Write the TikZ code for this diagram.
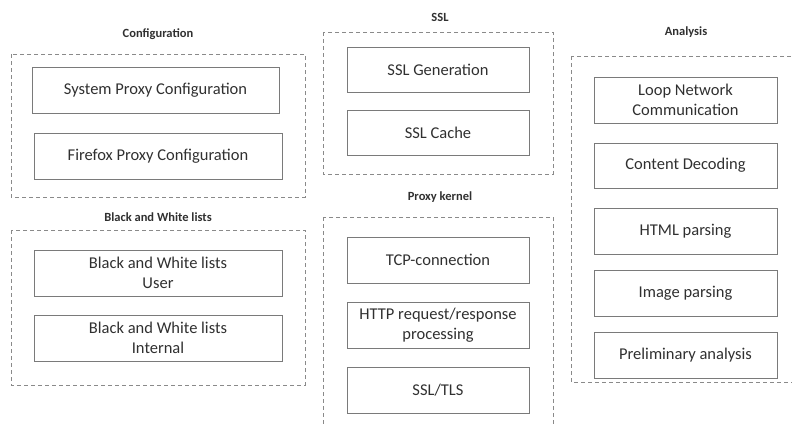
\documentclass[tikz,border=0pt]{standalone}
\usepackage{fontspec}
\setmainfont{Carlito}
\definecolor{boxline}{HTML}{7A7A7A}
\definecolor{dashline}{HTML}{8A8A8A}
\definecolor{txt}{HTML}{303030}
\begin{document}
\begin{tikzpicture}[x=1pt,y=-1pt,
  item/.style={draw=boxline, line width=0.9pt, rectangle, minimum width=#1, minimum height=46pt, align=center, font=\fontsize{16.5}{20}\selectfont, text=txt, inner sep=0pt},
  item/.default=183pt,
  grp/.style={draw=dashline, line width=0.8pt, dash pattern=on 4pt off 3pt},
  ttl/.style={font=\fontsize{12.5}{15}\selectfont\bfseries, text=txt, inner sep=0pt}]
\useasboundingbox (0,0) rectangle (792,423);
\clip (0,0) rectangle (792,423);
% group frames
\draw[grp] (11,54) rectangle (305,197);
\draw[grp] (11,230) rectangle (305,385);
\draw[grp] (323,32) rectangle (553,174);
\draw[grp] (323,217) rectangle (553,440);
\draw[grp] (571,56) rectangle (810,382);
% titles
\node[ttl] (tconf) at (158,34) {Configuration};
\node[ttl] (tbw) at (158,217) {Black and White lists};
\node[ttl] (tssl) at (440,17) {SSL};
\node[ttl] (tpk) at (440,197) {Proxy kernel};
\node[ttl] (tan) at (686,32) {Analysis};
% Configuration
\node[item=247pt] (sys) at (155.5,90) {System Proxy Configuration};
\node[item=248pt] (ff) at (158,156) {Firefox Proxy Configuration};
% Black and white lists
\node[item=248pt] (bwu) at (158,273) {Black and White lists\\User};
\node[item=248pt] (bwi) at (158,338) {Black and White lists\\Internal};
% SSL
\node[item=182pt, minimum height=45pt] (sslg) at (438,69.5) {SSL Generation};
\node[item=182pt, minimum height=45pt] (sslc) at (438,132.5) {SSL Cache};
% Proxy kernel
\node[item=182pt] (tcp) at (438,260) {TCP-connection};
\node[item=182pt] (http) at (438,325) {HTTP request/response\\processing};
\node[item=182pt] (tls) at (438,390) {SSL/TLS};
% Analysis
\node[item] (loop) at (685.5,100) {Loop Network\\Communication};
\node[item, minimum height=45pt] (cd) at (685.5,165.5) {Content Decoding};
\node[item] (html) at (685.5,231) {HTML parsing};
\node[item] (img) at (685.5,293) {Image parsing};
\node[item] (pre) at (685.5,355) {Preliminary analysis};
\end{tikzpicture}
\end{document}
